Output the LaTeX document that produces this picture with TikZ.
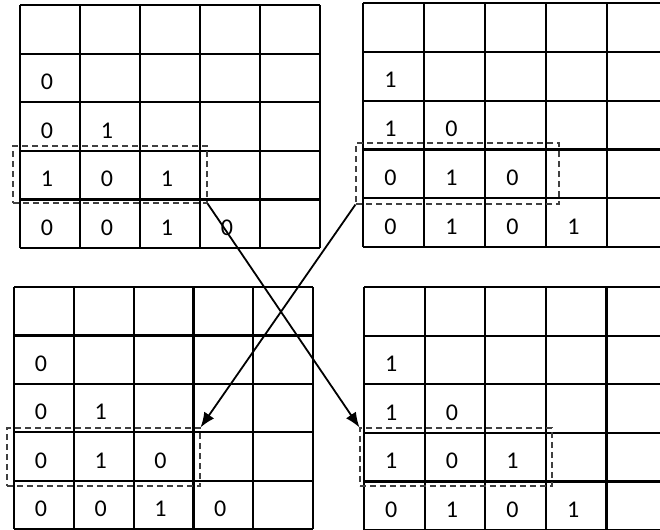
\documentclass[tikz,border=0pt]{standalone}
\usepackage{fontspec}
\setmainfont{Carlito}
\usetikzlibrary{arrows.meta}

\begin{document}
\begin{tikzpicture}[x=0.5pt,y=-0.5pt,>={Latex[length=7.5pt,width=6pt]},
      gline/.style={line width=1.1pt},
      val/.style={font=\fontsize{12}{14}\selectfont,inner sep=0pt},
      win/.style={draw=black!75,dash pattern=on 3pt off 2pt,line width=0.55pt,
                  inner sep=0pt},
      ar/.style={->,line width=0.9pt}]
    \useasboundingbox (0,0) rectangle (660,530);
    \clip (0,0) rectangle (660,530);
    % four 5x5 grids: left/top corner, cell width, cell height
    \foreach \gx/\gy/\gw/\gh in {20/5/60/48.6, 363/3/61/48.8, 14/287/59.8/48.4, 364/287/60.6/48.6}{
      \foreach \i in {0,...,5}{
        \draw[gline] (\gx+\i*\gw,\gy) -- (\gx+\i*\gw,\gy+5*\gh);
        \draw[gline] (\gx,\gy+\i*\gh) -- (\gx+5*\gw,\gy+\i*\gh);
      }
    }
    % cell values (column/row/value)
    \foreach \c/\r/\v in {1/2/0,1/3/0,2/3/1,1/4/1,2/4/0,3/4/1,1/5/0,2/5/0,3/5/1,4/5/0}
      \node[val] (tl-\c-\r) at (20+\c*60-33,5+\r*48.6-20.3) {\v};
    \foreach \c/\r/\v in {1/2/1,1/3/1,2/3/0,1/4/0,2/4/1,3/4/0,1/5/0,2/5/1,3/5/0,4/5/1}
      \node[val] (tr-\c-\r) at (363+\c*61-33.5,3+\r*48.8-20.4) {\v};
    \foreach \c/\r/\v in {1/2/0,1/3/0,2/3/1,1/4/0,2/4/1,3/4/0,1/5/0,2/5/0,3/5/1,4/5/0}
      \node[val] (bl-\c-\r) at (14+\c*59.8-32.9,287+\r*48.4-20.2) {\v};
    \foreach \c/\r/\v in {1/2/1,1/3/1,2/3/0,1/4/1,2/4/0,3/4/1,1/5/0,2/5/1,3/5/0,4/5/1}
      \node[val] (br-\c-\r) at (364+\c*60.6-33.3,287+\r*48.6-20.3) {\v};
    % dashed windows
    \node[win,minimum width=97pt,minimum height=28.5pt] (wtl) at (110,174.5) {};
    \node[win,minimum width=101.5pt,minimum height=30.5pt] (wtr) at (457.5,173.5) {};
    \node[win,minimum width=96.5pt,minimum height=29pt] (wbl) at (103.5,457) {};
    \node[win,minimum width=96pt,minimum height=29pt] (wbr) at (456,457) {};
    \draw[ar] (wtl.south east) -- (wbr.north west);
    \draw[ar] (wtr.south west) -- (wbl.north east);
  \end{tikzpicture}
\end{document}
